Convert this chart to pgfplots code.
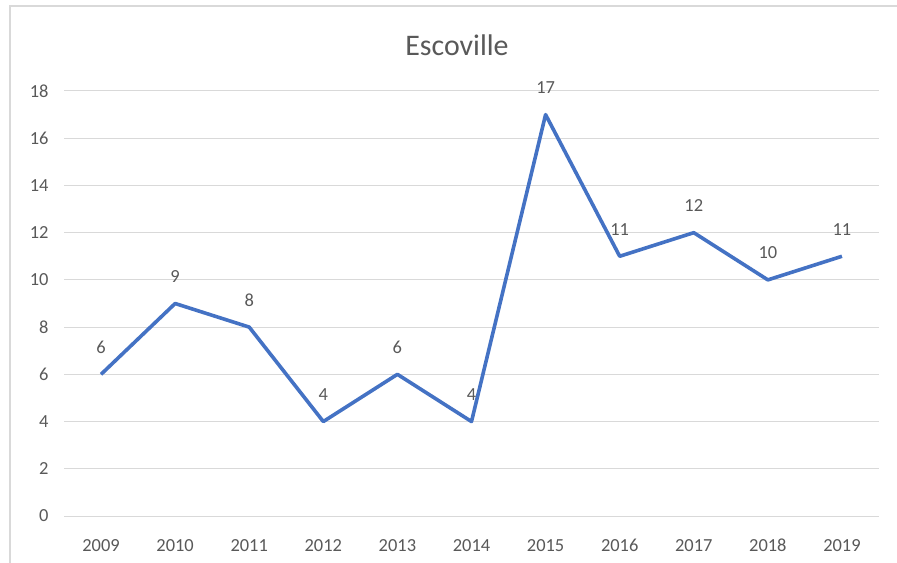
\documentclass[border=0pt]{standalone}
\usepackage{fontspec}
\setmainfont{Carlito}
\usepackage{pgfplots}
\pgfplotsset{compat=1.18}
\definecolor{linecol}{HTML}{4472C4}
\definecolor{txtcol}{HTML}{595959}
\definecolor{gridcol}{HTML}{D9D9D9}
\begin{document}
\begin{tikzpicture}
\useasboundingbox (0,0) rectangle (897bp,563bp);
\fill[white] (0,0) rectangle (897bp,563bp);
\draw[gridcol, line width=1.2bp] (10bp,0) -- (10bp,557bp) -- (897bp,557bp);
\begin{axis}[
  at={(64bp,47bp)}, anchor=south west,
  scale only axis, width=815bp, height=425bp,
  xmin=-0.5, xmax=10.5, ymin=0, ymax=18,
  xtick={0,...,10},
  xticklabels={2009,2010,2011,2012,2013,2014,2015,2016,2017,2018,2019},
  ytick={0,2,...,18},
  axis line style={draw=none},
  major tick length=0pt,
  ymajorgrids, grid style={gridcol, line width=1bp},
  tick label style={font=\fontsize{18.5}{20}\selectfont, text=txtcol},
  /pgf/number format/assume math mode=true,
  yticklabel style={xshift=-12bp},
  xticklabel style={anchor=base, yshift=-35bp},
  clip=false,
  nodes near coords,
  every node near coord/.append style={font=\fontsize{18.5}{20}\selectfont, text=txtcol, anchor=base, yshift=21bp},
]
\addplot[linecol, line width=3.6bp, line join=round, mark=none] coordinates {
(0,6) (1,9) (2,8) (3,4) (4,6) (5,4) (6,17) (7,11) (8,12) (9,10) (10,11)
};
\end{axis}
\node[text=txtcol, font=\fontsize{30}{34}\selectfont] at (457bp,518bp) {Escoville};
\end{tikzpicture}
\end{document}
